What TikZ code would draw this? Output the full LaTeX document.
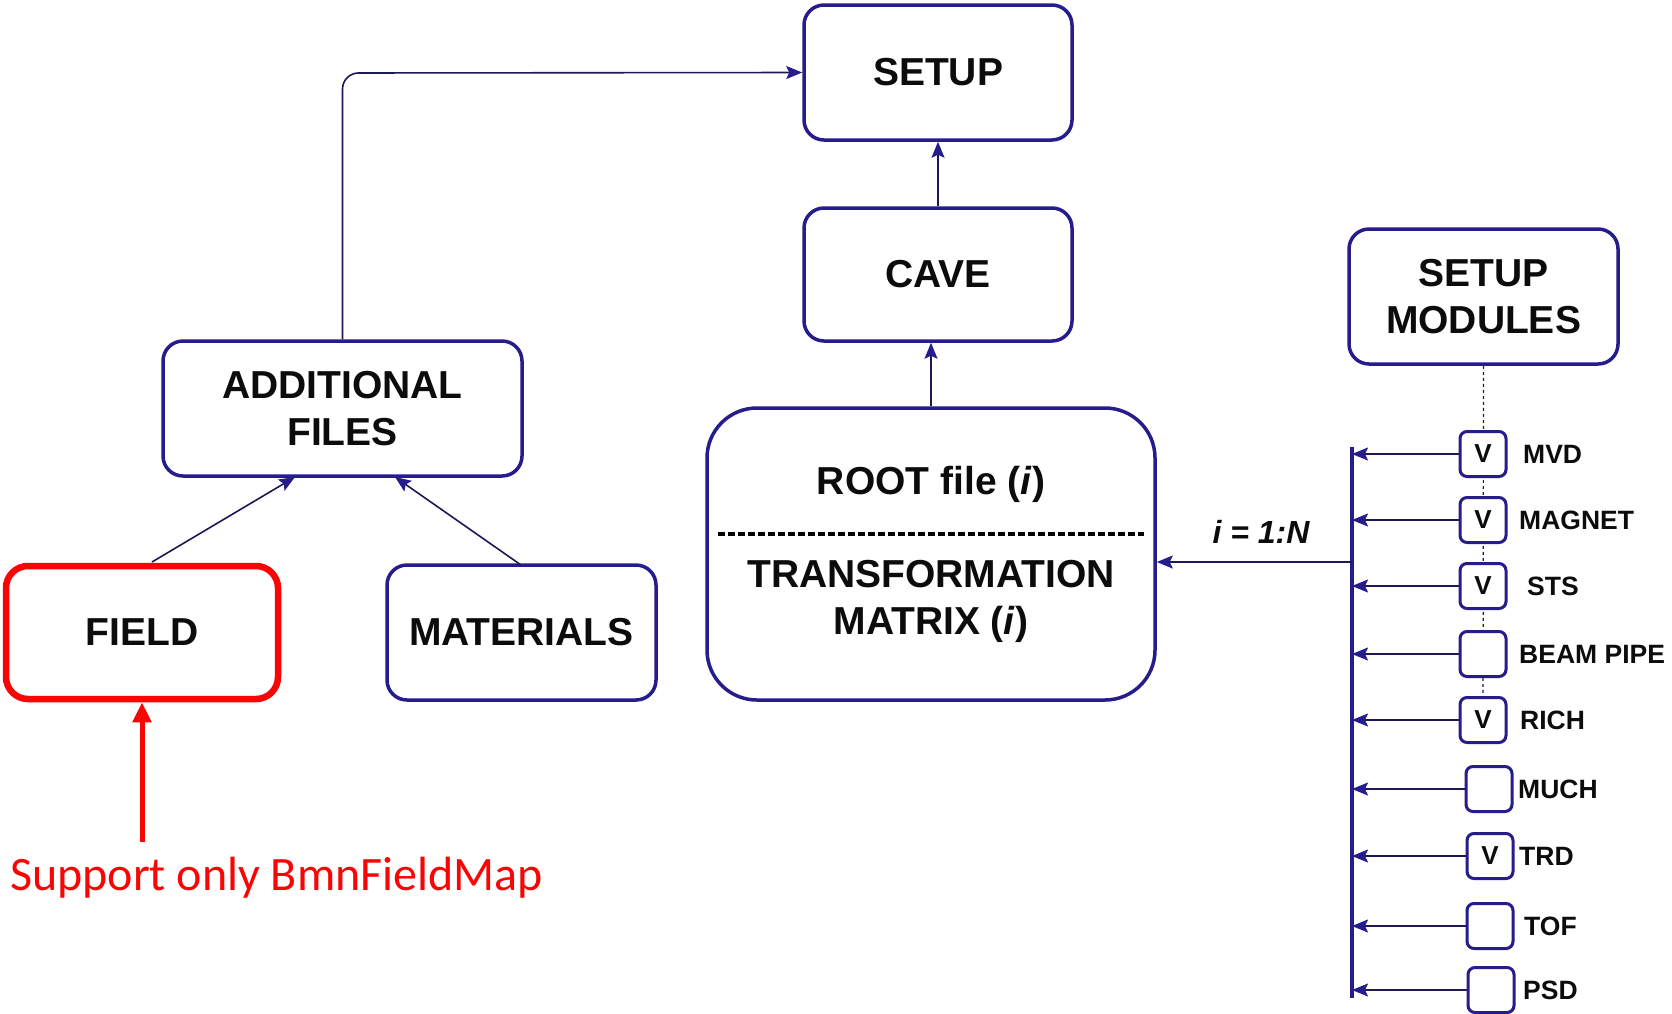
\documentclass[tikz,border=0pt]{standalone}
\usepackage{fontspec}
\setmainfont{Liberation Sans}
\newfontfamily\notefont{Carlito}
\usetikzlibrary{arrows.meta}
\definecolor{boxblue}{RGB}{38,28,140}
\definecolor{linedark}{RGB}{28,24,85}
\definecolor{notered}{RGB}{250,5,5}
\definecolor{labelgray}{RGB}{12,12,12}

\tikzset{
  block/.style={draw=boxblue, line width=3.5pt, rounded corners=20pt, fill=white,
    align=center, inner sep=0pt, text=labelgray,
    font=\fontsize{39}{47}\selectfont\bfseries},
  sbox/.style={draw=boxblue, line width=3pt, rounded corners=7pt, fill=white,
    minimum width=46pt, minimum height=45pt, inner sep=0pt, text=labelgray,
    font=\fontsize{26}{30}\selectfont\bfseries},
  slabel/.style={anchor=west, inner sep=0pt, text=labelgray,
    font=\fontsize{26.5}{30}\selectfont\bfseries},
  conn/.style={draw=linedark, line width=1.6pt,
    -{Stealth[length=16pt,width=13pt,inset=3pt,color=boxblue]}},
  busline/.style={draw=boxblue, line width=3.5pt},
}

\begin{document}
\begin{tikzpicture}[x=1pt,y=-1pt]
\useasboundingbox (0,0) rectangle (1672,1013);
\fill[white] (0,0) rectangle (1672,1013);

% main blocks
\node[block, minimum width=268pt, minimum height=135pt] (setup) at (938,72.5) {SETUP};
\node[block, minimum width=268pt, minimum height=133pt] (cave) at (938,274.5) {CAVE};
\node[block, minimum width=269pt, minimum height=135pt] (modules) at (1483.5,296.5) {SETUP\\MODULES};
\node[block, minimum width=359pt, minimum height=135pt] (addf) at (342.5,408.5) {ADDITIONAL\\FILES};
\node[block, minimum width=269pt, minimum height=135pt] (mat) at (521.5,632.5) {MATERIALS};
\node[block, draw=notered, line width=6.5pt, rounded corners=22pt,
      minimum width=272pt, minimum height=133pt] (field) at (142,632.5) {FIELD};

% ROOT file / transformation block
\node[block, rounded corners=50pt, minimum width=448pt, minimum height=292pt] (root) at (931,554) {};
\node[inner sep=0pt, text=labelgray, font=\fontsize{39}{47}\selectfont\bfseries] (rootfile) at (931,484) {ROOT file (\textit{i})};
\node[inner sep=0pt, align=center, text=labelgray, font=\fontsize{39}{47}\selectfont\bfseries] (trans) at (931,601) {TRANSFORMATION\\MATRIX (\textit{i})};
\coordinate (sepL) at (718,534);
\coordinate (sepR) at (1144,534);
\draw[black, line width=4.5pt, dash pattern=on 7pt off 3pt] (sepL) -- (sepR);

% block connectors
\draw[conn] (cave.north) -- (setup.south);
\draw[conn] (root.north) -- (root.north |- cave.south);
\draw[conn, rounded corners=16pt] (addf.north) -- (342.5,73) -- (setup.west);
\coordinate (fieldtop) at (152,562);
\coordinate (addfL) at (295,477);
\draw[conn] (fieldtop) -- (addfL);
\coordinate (mattop) at (521,565);
\coordinate (addfR) at (395,477);
\draw[conn] (mattop) -- (addfR);

% note on the field block
\node[anchor=base west, inner sep=0pt, text=notered,
      font=\notefont\fontsize{48}{56}\selectfont] (note) at (10,890) {Support only BmnFieldMap};
\coordinate (notetop) at (142,842);
\draw[notered, line width=5pt, -{Triangle[length=20pt,width=18pt]}] (notetop) -- (field.south);

% module list
\coordinate (dotend) at (1483,720);
\draw[linedark, line width=1.2pt, dash pattern=on 3pt off 3pt] (modules.south) -- (dotend);

\node[sbox] (m1) at (1483,454) {V};
\node[sbox] (m2) at (1483,520) {V};
\node[sbox] (m3) at (1483,586) {V};
\node[sbox] (m4) at (1483,654) {};
\node[sbox] (m5) at (1483,720) {V};
\node[sbox] (m6) at (1489,789) {};
\node[sbox] (m7) at (1490,856) {V};
\node[sbox] (m8) at (1490,926) {};
\node[sbox] (m9) at (1491,990) {};

\node[slabel] (l1) at (1523,454) {MVD};
\node[slabel] (l2) at (1519,520) {MAGNET};
\node[slabel] (l3) at (1527,586) {STS};
\node[slabel] (l4) at (1519,654) {BEAM PIPE};
\node[slabel] (l5) at (1520,720) {RICH};
\node[slabel] (l6) at (1518,789) {MUCH};
\node[slabel] (l7) at (1519,856) {TRD};
\node[slabel] (l8) at (1524,926) {TOF};
\node[slabel] (l9) at (1523,990) {PSD};

% collecting bus
\coordinate (bustop) at (1352,447);
\coordinate (busbot) at (1352,998);
\draw[busline] (bustop) -- (busbot);
\foreach \k in {1,...,9}{
  \draw[conn] (m\k.west) -- (m\k.west -| bustop);
}
\coordinate (busout) at (1352,562);
\draw[conn] (busout) -- (busout -| root.east);
\node[inner sep=0pt, text=labelgray, font=\fontsize{32}{38}\selectfont\bfseries\itshape] (range) at (1261,532) {i = 1:N};
\end{tikzpicture}
\end{document}
